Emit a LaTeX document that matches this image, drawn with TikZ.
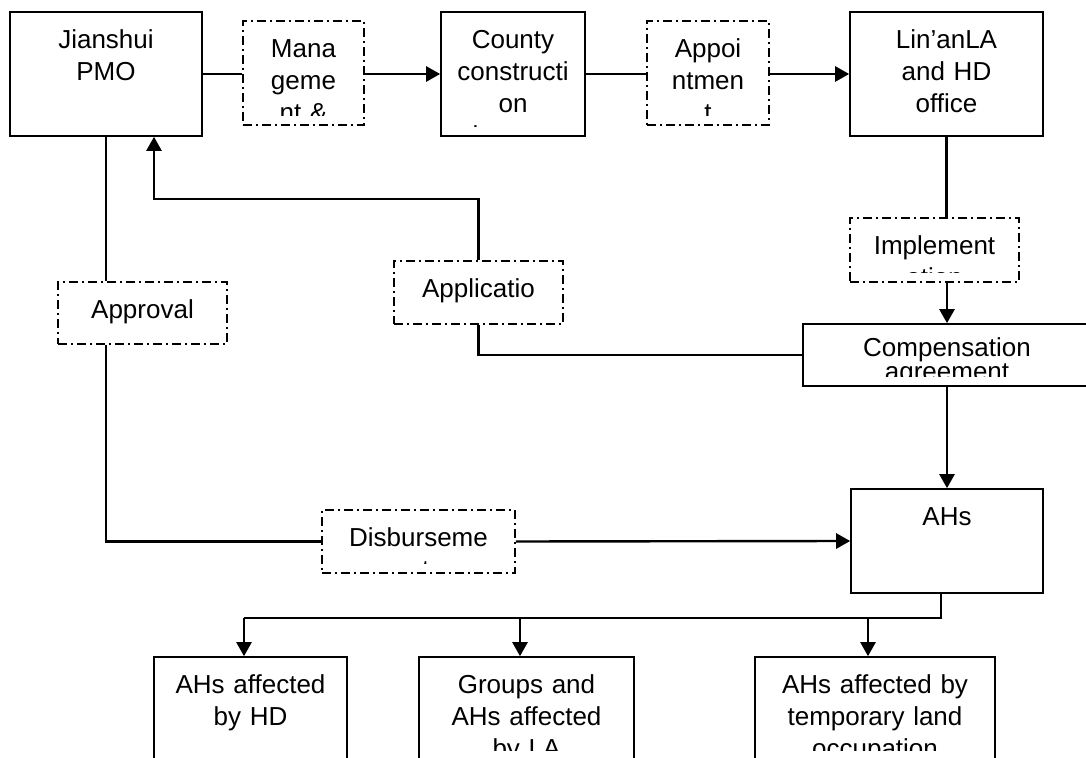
\documentclass[tikz,border=0pt]{standalone}
\usepackage{fontspec}
\setmainfont{Liberation Sans}
\usetikzlibrary{arrows.meta}

\tikzset{
	box/.style={draw, line width=0.8pt, inner sep=0pt},
	dbox/.style={box, dash pattern=on 4.5pt off 2pt on 1pt off 2pt},
	txt/.style={text width=120pt, align=center, inner sep=0pt, anchor=base, font=\fontsize{13}{16}\selectfont},
	link/.style={line width=1.2pt},
	arr/.style={link, -{Triangle[length=7pt,width=7.5pt]}}
}

\newcommand{\boxtext}[3][18.5pt]{
	\begin{scope}
		\clip (#2.north west) rectangle ([yshift=5pt]#2.south east);
		\node [txt] (#2-t) at ([yshift=-#1]#2.north) {#3};
	\end{scope}
}

\begin{document}
\begin{tikzpicture}[x=0.5pt, y=-0.5pt]
	\useasboundingbox (0,0) rectangle (1086,758);
	\clip (0,0) rectangle (1086,758);
	\node [box, minimum width=96pt, minimum height=62pt] (pmo) at (106,74) {};
	\node [dbox, minimum width=60.5pt, minimum height=52pt] (mana) at (303.5,73) {};
	\node [box, minimum width=72pt, minimum height=62pt] (county) at (513,74) {};
	\node [dbox, minimum width=61pt, minimum height=52pt] (appt) at (708,73) {};
	\node [box, minimum width=96.5pt, minimum height=62pt] (linan) at (946.5,74) {};
	\node [dbox, minimum width=84.5pt, minimum height=32pt] (impl) at (934.5,250) {};
	\node [box, minimum width=144pt, minimum height=31pt] (comp) at (947,355) {};
	\node [dbox, minimum width=84.5pt, minimum height=31.5pt] (appl) at (478.5,292.5) {};
	\node [dbox, minimum width=84.5pt, minimum height=31pt] (appr) at (142.5,313) {};
	\node [dbox, minimum width=96.5pt, minimum height=31.5pt] (disb) at (418.5,541.5) {};
	\node [box, minimum width=96pt, minimum height=52pt] (ahs) at (947,541) {};
	\node [box, minimum width=96.5pt, minimum height=51.5pt] (hd) at (250.5,708.5) {};
	\node [box, minimum width=107.5pt, minimum height=51.5pt] (grp) at (526.5,708.5) {};
	\node [box, minimum width=120pt, minimum height=51.5pt] (tmp) at (875,708.5) {};

	\boxtext{pmo}{Jianshui\\PMO}
	\boxtext{mana}{Mana\\geme\\nt \&}
	\boxtext{county}{County\\constructi\\on\\bureau}
	\boxtext{appt}{Appoi\\ntmen\\t}
	\boxtext{linan}{Lin’anLA\\and HD\\office}
	\boxtext{impl}{Implement\\ation}
	\boxtext[16.5pt]{comp}{Compensation\\[-4pt]agreement}
	\boxtext{appl}{Applicatio\\n}
	\boxtext{appr}{Approval}
	\boxtext{disb}{Disburseme\\nt}
	\boxtext{ahs}{AHs}
	\boxtext{hd}{AHs affected\\by HD}
	\boxtext{grp}{Groups and\\AHs affected\\by LA}
	\boxtext{tmp}{AHs affected by\\temporary land\\occupation}

	\coordinate (back) at (154,199);
	\coordinate (fork) at (941,618);
	\coordinate (fhd) at (244,618);
	\coordinate (fgrp) at (520,618);
	\coordinate (ftmp) at (868,618);

	\draw [link] (pmo.east) -- (pmo.east -| mana.west);
	\draw [arr] (pmo.east -| mana.east) -- (county.west);
	\draw [link] (county.east) -- (county.east -| appt.west);
	\draw [arr] (county.east -| appt.east) -- (linan.west);
	\draw [link] (linan.south) -- (linan.south |- impl.north);
	\draw [arr] (impl.south -| comp.north) -- (comp.north);
	\draw [arr] (comp.south) -- (ahs.north);
	\draw [arr] (appl.north) |- (back) -- (back |- pmo.south);
	\draw [link] (appl.south) |- (comp.west);
	\draw [link] (pmo.south) -- (pmo.south |- appr.north);
	\draw [link] (pmo.south |- appr.south) |- (disb.west);
	\draw [arr] (disb.east) -- (ahs.west);
	\draw [link] (ahs.south -| fork) -- (fork) -- (fhd);
	\draw [arr] (fhd) -- (fhd |- hd.north);
	\draw [arr] (fgrp) -- (fgrp |- grp.north);
	\draw [arr] (ftmp) -- (ftmp |- tmp.north);
\end{tikzpicture}
\end{document}
